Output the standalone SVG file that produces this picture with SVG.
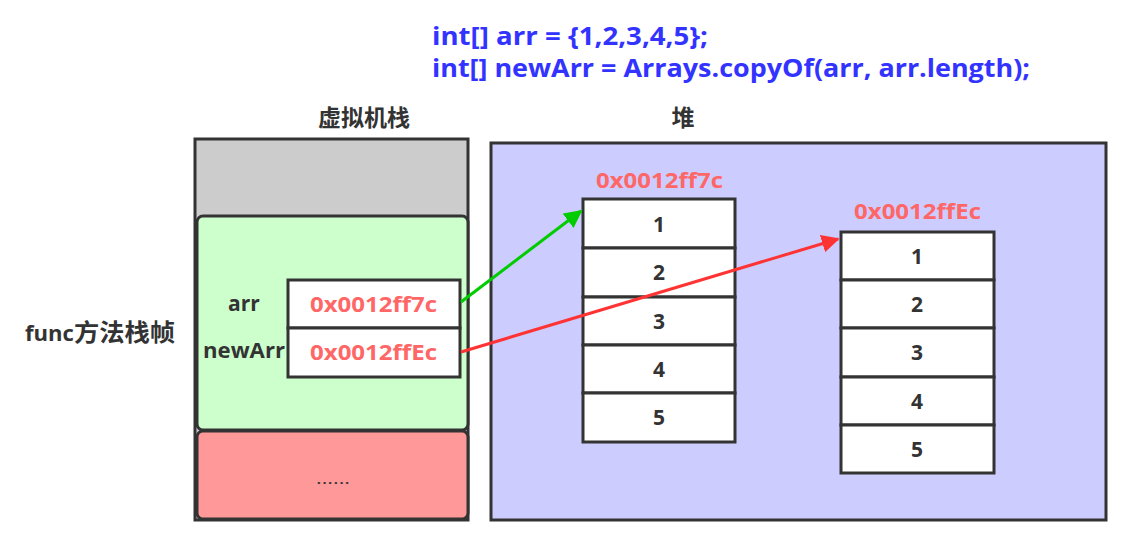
<svg xmlns="http://www.w3.org/2000/svg" width="1140" height="546" viewBox="0 0 1140 546">
<style>
text{font-family:"Open Sans","Noto Sans","Noto Sans CJK SC",sans-serif;font-weight:bold;}
.lbl{font-size:21px;fill:#333333;}
.cjk{font-size:23px;fill:#333333;font-family:"Noto Sans CJK SC","Open Sans",sans-serif;}
.addr{font-size:21px;fill:#ff6666;}
.code{font-size:25px;fill:#3333ff;}
.cell{fill:#ffffff;stroke:#333333;stroke-width:3;}
.num{font-size:21px;fill:#333333;text-anchor:middle;}
</style>
<defs>
<marker id="ag" viewBox="0 0 10 10" refX="9" refY="5" markerWidth="6" markerHeight="6" orient="auto" markerUnits="strokeWidth"><path d="M0,0 L10,5 L0,10 z" fill="#00cc00"/></marker>
<marker id="ar" viewBox="0 0 10 10" refX="9" refY="5" markerWidth="6" markerHeight="6" orient="auto" markerUnits="strokeWidth"><path d="M0,0 L10,5 L0,10 z" fill="#ff3333"/></marker>
</defs>
<rect width="1140" height="546" fill="#ffffff"/>
<g id="code">
<text class="code" x="432" y="45" textLength="276" lengthAdjust="spacingAndGlyphs">int[] arr = {1,2,3,4,5};</text>
<text class="code" x="432" y="77" textLength="598" lengthAdjust="spacingAndGlyphs">int[] newArr = Arrays.copyOf(arr, arr.length);</text>
</g>
<g id="stack">
<text class="cjk" x="364" y="126" text-anchor="middle">虚拟机栈</text>
<rect x="195" y="139" width="273" height="381" fill="#cccccc" stroke="#333333" stroke-width="3"/>
</g>
<g id="frame">
<rect x="197" y="216" width="271" height="214" rx="6" fill="#ccffcc" stroke="#333333" stroke-width="3"/>
<text class="lbl" x="25" y="341" textLength="150" lengthAdjust="spacingAndGlyphs"><tspan>func</tspan><tspan class="cjk" style="font-size:24px">方法栈帧</tspan></text>
<text class="lbl" x="244" y="311" text-anchor="middle">arr</text>
<text class="lbl" x="244" y="358" text-anchor="middle" textLength="82" lengthAdjust="spacingAndGlyphs">newArr</text>
</g>
<g id="ptr1">
<rect class="cell" x="288" y="280" width="172" height="48"/>
<text class="addr" x="310" y="312" textLength="127" lengthAdjust="spacingAndGlyphs">0x0012ff7c</text>
</g>
<g id="ptr2">
<rect class="cell" x="288" y="328" width="172" height="49"/>
<text class="addr" x="310" y="360" textLength="127" lengthAdjust="spacingAndGlyphs">0x0012ffEc</text>
</g>
<g id="other">
<rect x="197" y="431" width="271" height="88" rx="6" fill="#ff9999" stroke="#333333" stroke-width="3"/>
<text x="333" y="484" text-anchor="middle" style="font-size:16px;fill:#333333;font-weight:normal" textLength="34" lengthAdjust="spacingAndGlyphs">......</text>
</g>
<g id="heap">
<text class="cjk" x="683" y="126" text-anchor="middle">堆</text>
<rect x="491" y="143" width="615" height="377" fill="#ccccff" stroke="#333333" stroke-width="3"/>
</g>
<g id="array1">
<text class="addr" x="596" y="188" textLength="127" lengthAdjust="spacingAndGlyphs">0x0012ff7c</text>
<rect class="cell" x="583" y="199" width="152" height="49"/>
<rect class="cell" x="583" y="248" width="152" height="49"/>
<rect class="cell" x="583" y="297" width="152" height="48"/>
<rect class="cell" x="583" y="345" width="152" height="48"/>
<rect class="cell" x="583" y="393" width="152" height="49"/>
<text class="num" x="659" y="232">1</text>
<text class="num" x="659" y="280">2</text>
<text class="num" x="659" y="329">3</text>
<text class="num" x="659" y="377">4</text>
<text class="num" x="659" y="425">5</text>
</g>
<g id="array2">
<text class="addr" x="854" y="219" textLength="127" lengthAdjust="spacingAndGlyphs">0x0012ffEc</text>
<rect class="cell" x="841" y="232" width="153" height="48"/>
<rect class="cell" x="841" y="280" width="153" height="48"/>
<rect class="cell" x="841" y="328" width="153" height="49"/>
<rect class="cell" x="841" y="377" width="153" height="48"/>
<rect class="cell" x="841" y="425" width="153" height="48"/>
<text class="num" x="917" y="264">1</text>
<text class="num" x="917" y="312">2</text>
<text class="num" x="917" y="360">3</text>
<text class="num" x="917" y="409">4</text>
<text class="num" x="917" y="457">5</text>
</g>
<g id="connectors">
<line x1="461" y1="302" x2="581" y2="211" stroke="#00cc00" stroke-width="3" marker-end="url(#ag)"/>
<line x1="461" y1="352" x2="838" y2="239" stroke="#ff3333" stroke-width="3" marker-end="url(#ar)"/>
</g>
</svg>
